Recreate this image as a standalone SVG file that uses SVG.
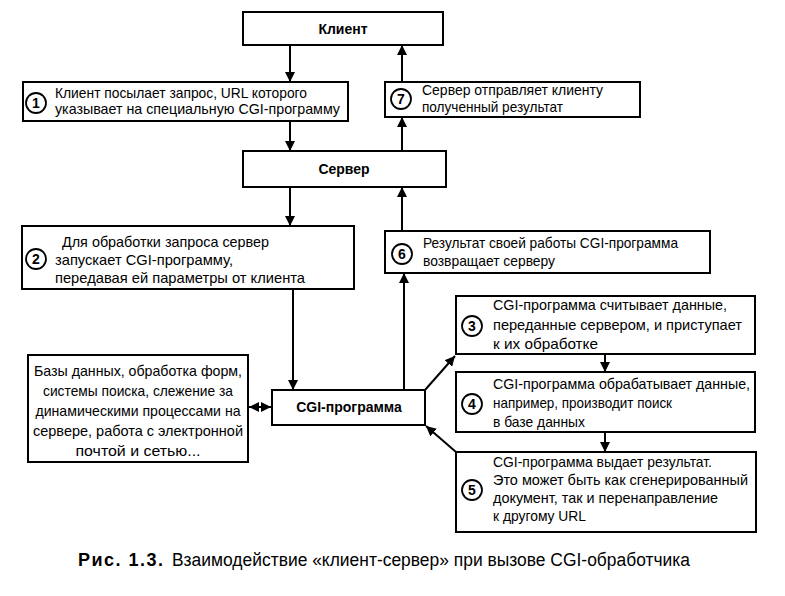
<svg xmlns="http://www.w3.org/2000/svg" width="785" height="596" viewBox="0 0 785 596">
<style>
.box{fill:#fff;stroke:#000;stroke-width:2}
.circ{fill:#fff;stroke:#000;stroke-width:1.8}
.t{font-family:"Liberation Sans",Arial,sans-serif;font-size:15px;fill:#000}
.n{font-family:"Liberation Sans",Arial,sans-serif;font-size:14px;font-weight:bold;fill:#000;text-anchor:middle}
.h{font-family:"Liberation Sans",Arial,sans-serif;font-size:14px;font-weight:bold;fill:#000;text-anchor:middle}
.c{text-anchor:middle}
.ln{fill:none;stroke:#000;stroke-width:2}
.cap{font-family:"Liberation Sans",Arial,sans-serif;font-size:18px;fill:#000}
</style>
<defs>
<marker id="ah" viewBox="0 0 10 10" refX="10" refY="5" markerWidth="10" markerHeight="10" markerUnits="userSpaceOnUse" orient="auto-start-reverse">
<path d="M0,0 L10,5 L0,10 z" fill="#000"/>
</marker>
</defs>
<rect width="785" height="596" fill="#fff"/>
<g id="connectors">
<line class="ln" x1="290" y1="45" x2="290" y2="82" marker-end="url(#ah)"/>
<line class="ln" x1="402" y1="82" x2="402" y2="45" marker-end="url(#ah)"/>
<line class="ln" x1="290" y1="121" x2="290" y2="151" marker-end="url(#ah)"/>
<line class="ln" x1="402" y1="151" x2="402" y2="117" marker-end="url(#ah)"/>
<line class="ln" x1="290" y1="187" x2="290" y2="226" marker-end="url(#ah)"/>
<line class="ln" x1="402" y1="231" x2="402" y2="187" marker-end="url(#ah)"/>
<line class="ln" x1="293" y1="289" x2="293" y2="390" marker-end="url(#ah)"/>
<line class="ln" x1="404" y1="390" x2="404" y2="273" marker-end="url(#ah)"/>
<line class="ln" x1="249" y1="407" x2="271" y2="407" marker-start="url(#ah)" marker-end="url(#ah)"/>
<line class="ln" x1="425" y1="390" x2="455" y2="356" marker-end="url(#ah)"/>
<line class="ln" x1="456" y1="452" x2="426" y2="426" marker-end="url(#ah)"/>
<line class="ln" x1="605" y1="354" x2="605" y2="372" marker-end="url(#ah)"/>
<line class="ln" x1="605" y1="432" x2="605" y2="452" marker-end="url(#ah)"/>
</g>
<g id="client">
<rect class="box" x="243" y="12" width="200" height="33"/>
<text class="h" x="343" y="34">Клиент</text>
</g>
<g id="step1">
<rect class="box" x="23" y="82" width="325" height="39"/>
<circle class="circ" cx="36" cy="103" r="10"/>
<text class="n" x="36" y="108">1</text>
<text class="t" x="55" y="98" textLength="252" lengthAdjust="spacingAndGlyphs">Клиент посылает запрос, URL которого</text>
<text class="t" x="55" y="114" textLength="285" lengthAdjust="spacingAndGlyphs">указывает на специальную CGI-программу</text>
</g>
<g id="step7">
<rect class="box" x="385" y="82" width="255" height="35"/>
<circle class="circ" cx="401" cy="99" r="10"/>
<text class="n" x="401" y="104">7</text>
<text class="t" x="422" y="95" textLength="181" lengthAdjust="spacingAndGlyphs">Сервер отправляет клиенту</text>
<text class="t" x="422" y="112" textLength="141" lengthAdjust="spacingAndGlyphs">полученный результат</text>
</g>
<g id="server">
<rect class="box" x="243" y="151" width="203" height="36"/>
<text class="h" x="344" y="174">Сервер</text>
</g>
<g id="step2">
<rect class="box" x="22" y="226" width="332" height="63"/>
<circle class="circ" cx="36" cy="259" r="10"/>
<text class="n" x="36" y="264">2</text>
<text class="t" x="62" y="247" textLength="207" lengthAdjust="spacingAndGlyphs">Для обработки запроса сервер</text>
<text class="t" x="55" y="265" textLength="178" lengthAdjust="spacingAndGlyphs">запускает CGI-программу,</text>
<text class="t" x="55" y="283" textLength="250" lengthAdjust="spacingAndGlyphs">передавая ей параметры от клиента</text>
</g>
<g id="step6">
<rect class="box" x="385" y="231" width="325" height="42"/>
<circle class="circ" cx="402" cy="254" r="10"/>
<text class="n" x="402" y="259">6</text>
<text class="t" x="423" y="248" textLength="255" lengthAdjust="spacingAndGlyphs">Результат своей работы CGI-программа</text>
<text class="t" x="423" y="266" textLength="132" lengthAdjust="spacingAndGlyphs">возвращает серверу</text>
</g>
<g id="resources">
<rect class="box" x="28" y="355" width="220" height="107"/>
<text class="t c" x="138" y="376" textLength="208" lengthAdjust="spacingAndGlyphs">Базы данных, обработка форм,</text>
<text class="t c" x="138" y="396" textLength="190" lengthAdjust="spacingAndGlyphs">системы поиска, слежение за</text>
<text class="t c" x="138" y="416" textLength="205" lengthAdjust="spacingAndGlyphs">динамическими процессами на</text>
<text class="t c" x="138" y="436" textLength="210" lengthAdjust="spacingAndGlyphs">сервере, работа с электронной</text>
<text class="t c" x="138" y="456" textLength="125" lengthAdjust="spacingAndGlyphs">почтой и сетью...</text>
</g>
<g id="cgi">
<rect class="box" x="272" y="390" width="153" height="35"/>
<text class="h" x="349" y="412">CGI-программа</text>
</g>
<g id="step3">
<rect class="box" x="456" y="296" width="299" height="58"/>
<circle class="circ" cx="472" cy="326" r="10"/>
<text class="n" x="472" y="331">3</text>
<text class="t" x="493" y="310" textLength="234" lengthAdjust="spacingAndGlyphs">CGI-программа считывает данные,</text>
<text class="t" x="493" y="330" textLength="249" lengthAdjust="spacingAndGlyphs">переданные сервером, и приступает</text>
<text class="t" x="493" y="349" textLength="105" lengthAdjust="spacingAndGlyphs">к их обработке</text>
</g>
<g id="step4">
<rect class="box" x="456" y="372" width="299" height="60"/>
<circle class="circ" cx="472" cy="404" r="10"/>
<text class="n" x="472" y="409">4</text>
<text class="t" x="493" y="389" textLength="257" lengthAdjust="spacingAndGlyphs">CGI-программа обрабатывает данные,</text>
<text class="t" x="493" y="408" textLength="179" lengthAdjust="spacingAndGlyphs">например, производит поиск</text>
<text class="t" x="493" y="427" textLength="92" lengthAdjust="spacingAndGlyphs">в базе данных</text>
</g>
<g id="step5">
<rect class="box" x="456" y="452" width="300" height="80"/>
<circle class="circ" cx="472" cy="490" r="10"/>
<text class="n" x="472" y="495">5</text>
<text class="t" x="493" y="467" textLength="219" lengthAdjust="spacingAndGlyphs">CGI-программа выдает результат.</text>
<text class="t" x="493" y="485" textLength="255" lengthAdjust="spacingAndGlyphs">Это может быть как сгенерированный</text>
<text class="t" x="493" y="503" textLength="225" lengthAdjust="spacingAndGlyphs">документ, так и перенаправление</text>
<text class="t" x="493" y="521" textLength="93" lengthAdjust="spacingAndGlyphs">к другому URL</text>
</g>
<g id="caption">
<text class="cap" x="78" y="566" font-weight="bold" font-size="20" letter-spacing="1.5">Рис. 1.3.</text>
<text class="cap" x="172" y="566" textLength="518" lengthAdjust="spacingAndGlyphs">Взаимодействие «клиент-сервер» при вызове CGI-обработчика</text>
</g>
</svg>
